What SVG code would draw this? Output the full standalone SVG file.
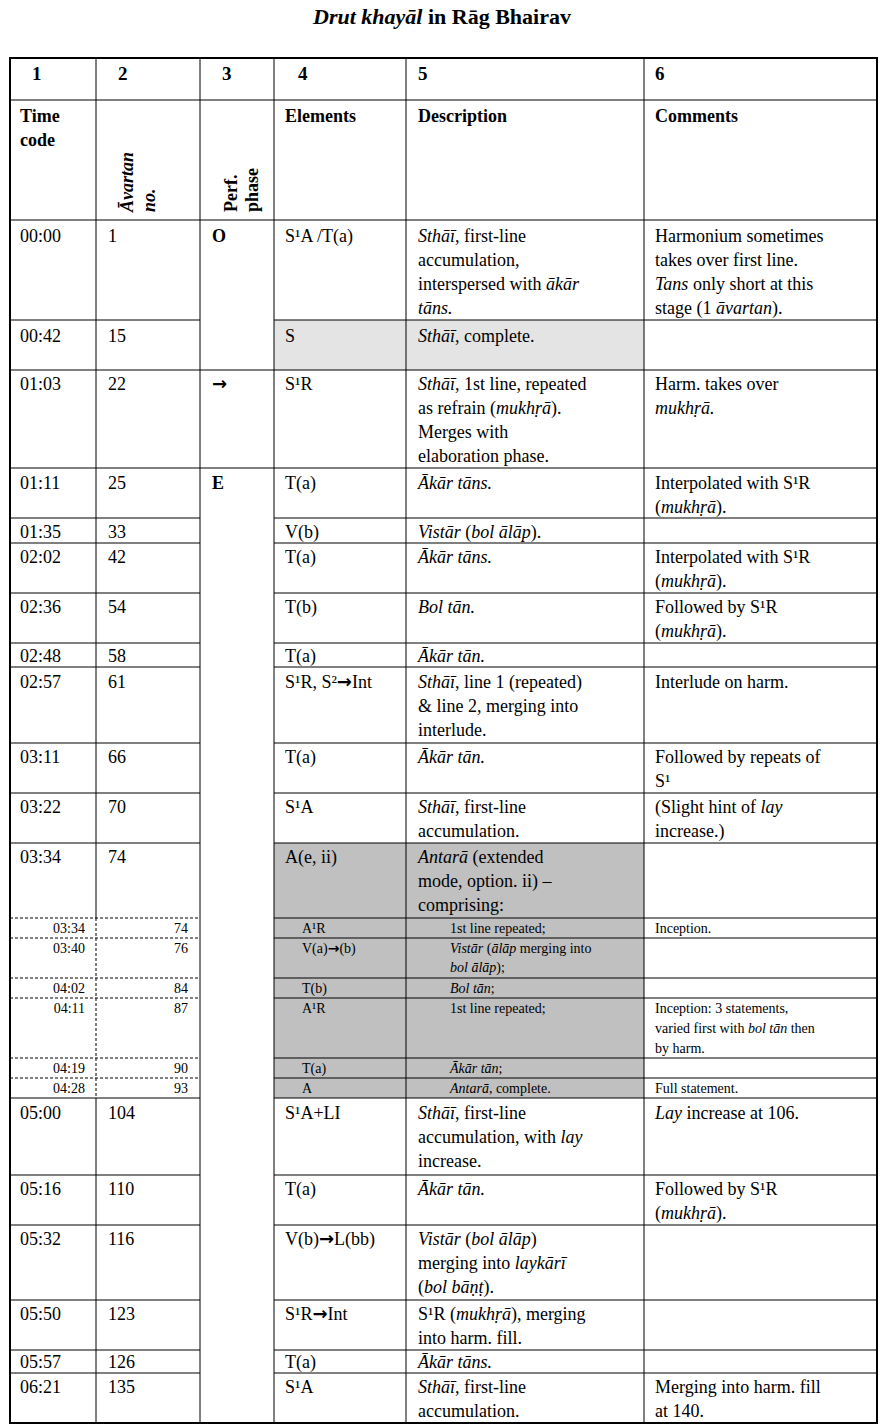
<svg xmlns="http://www.w3.org/2000/svg" width="884" height="1426" viewBox="0 0 884 1426">
<style>
text{font-family:"Liberation Serif","DejaVu Serif",serif;font-size:18px;fill:#000}
.b{font-weight:bold}
.i{font-style:italic}
.s{font-size:14px}
.t{font-size:22px;font-weight:bold}
.h{font-size:19px;font-weight:bold}
.a{font-family:"DejaVu Sans",sans-serif;font-weight:bold}
.ln{stroke:#000;stroke-width:1;fill:none}
.d{stroke:#000;stroke-width:1;stroke-dasharray:3,2;fill:none}
</style>
<text class="t" x="442" y="24" text-anchor="middle"><tspan class="i">Drut khayāl</tspan> in Rāg Bhairav</text>
<g id="fills">
<rect x="274" y="320" width="370" height="50" fill="#e4e4e4"/>
<rect x="274" y="843" width="370" height="255" fill="#c0c0c0"/>
</g>
<g id="grid">
<rect x="10" y="58" width="867" height="1365" fill="none" stroke="#000" stroke-width="2"/>
<path class="ln" d="M96 58V918M96 1098V1423M200 58V1423M274 58V1423M406 58V1423M644 58V1423"/>
<path class="d" d="M96 918V1098"/>
<path class="ln" d="M10 100H877M10 220H877"/>
<path class="ln" d="M10 320H200M274 320H877M10 370H877M10 468H877"/>
<path class="ln" d="M10 518H200M274 518H877M10 543H200M274 543H877M10 593H200M274 593H877M10 643H200M274 643H877M10 667H200M274 667H877M10 743H200M274 743H877M10 793H200M274 793H877M10 843H200M274 843H877"/>
<path class="d" d="M10 918H200M10 938H200M10 978H200M10 998H200M10 1058H200M10 1078H200"/>
<path class="ln" d="M274 918H877M274 938H877M274 978H877M274 998H877M274 1058H877M274 1078H877"/>
<path class="ln" d="M10 1098H200M274 1098H877M10 1175H200M274 1175H877M10 1225H200M274 1225H877M10 1300H200M274 1300H877M10 1350H200M274 1350H877M10 1373H200M274 1373H877"/>
</g>
<g id="header">
<text class="h" x="32" y="80">1</text><text class="h" x="118" y="80">2</text><text class="h" x="222" y="80">3</text><text class="h" x="298" y="80">4</text><text class="h" x="418" y="80">5</text><text class="h" x="655" y="80">6</text>
<text class="b" x="20" y="122">Time</text><text class="b" x="20" y="146">code</text>
<text class="b i" font-size="19" transform="translate(133,212) rotate(-90)">Āvartan</text>
<text class="b i" font-size="19" transform="translate(155,212) rotate(-90)">no.</text>
<text class="b" font-size="19" transform="translate(237,212) rotate(-90)">Perf.</text>
<text class="b" font-size="19" transform="translate(258,212) rotate(-90)">phase</text>
<text class="b" x="285" y="122">Elements</text><text class="b" x="418" y="122">Description</text><text class="b" x="655" y="122">Comments</text>
</g>
<g id="rows">
<text x="20" y="242">00:00</text><text x="108" y="242">1</text><text class="b" x="212" y="242">O</text><text x="285" y="242">S¹A /T(a)</text>
<text x="418" y="242"><tspan class="i">Sthāī</tspan>, first-line</text><text x="418" y="266">accumulation,</text><text x="418" y="290">interspersed with <tspan class="i">ākār</tspan></text><text x="418" y="314" class="i">tāns.</text>
<text x="655" y="242">Harmonium sometimes</text><text x="655" y="266">takes over first line.</text><text x="655" y="290"><tspan class="i">Tans</tspan> only short at this</text><text x="655" y="314">stage (1 <tspan class="i">āvartan</tspan>).</text>

<text x="20" y="342">00:42</text><text x="108" y="342">15</text><text x="285" y="342">S</text><text x="418" y="342"><tspan class="i">Sthāī</tspan>, complete.</text>

<text x="20" y="390">01:03</text><text x="108" y="390">22</text><text class="a" x="212" y="390">→</text><text x="285" y="390">S¹R</text>
<text x="418" y="390"><tspan class="i">Sthāī</tspan>, 1st line, repeated</text><text x="418" y="414">as refrain (<tspan class="i">mukhṛā</tspan>).</text><text x="418" y="438">Merges with</text><text x="418" y="462">elaboration phase.</text>
<text x="655" y="390">Harm. takes over</text><text x="655" y="414" class="i">mukhṛā.</text>

<text x="20" y="489">01:11</text><text x="108" y="489">25</text><text class="b" x="212" y="489">E</text><text x="285" y="489">T(a)</text><text x="418" y="489" class="i">Ākār tāns.</text><text x="655" y="489">Interpolated with S¹R</text><text x="655" y="513">(<tspan class="i">mukhṛā</tspan>).</text>
<text x="20" y="538">01:35</text><text x="108" y="538">33</text><text x="285" y="538">V(b)</text><text x="418" y="538"><tspan class="i">Vistār</tspan> (<tspan class="i">bol ālāp</tspan>).</text>
<text x="20" y="563">02:02</text><text x="108" y="563">42</text><text x="285" y="563">T(a)</text><text x="418" y="563" class="i">Ākār tāns.</text><text x="655" y="563">Interpolated with S¹R</text><text x="655" y="587">(<tspan class="i">mukhṛā</tspan>).</text>
<text x="20" y="613">02:36</text><text x="108" y="613">54</text><text x="285" y="613">T(b)</text><text x="418" y="613" class="i">Bol tān.</text><text x="655" y="613">Followed by S¹R</text><text x="655" y="637">(<tspan class="i">mukhṛā</tspan>).</text>
<text x="20" y="662">02:48</text><text x="108" y="662">58</text><text x="285" y="662">T(a)</text><text x="418" y="662" class="i">Ākār tān.</text>
<text x="20" y="688">02:57</text><text x="108" y="688">61</text><text x="285" y="688">S¹R, S²<tspan class="a">→</tspan>Int</text><text x="418" y="688"><tspan class="i">Sthāī</tspan>,  line 1 (repeated)</text><text x="418" y="712">&amp; line 2, merging into</text><text x="418" y="736">interlude.</text><text x="655" y="688">Interlude on harm.</text>
<text x="20" y="763">03:11</text><text x="108" y="763">66</text><text x="285" y="763">T(a)</text><text x="418" y="763" class="i">Ākār tān.</text><text x="655" y="763">Followed by repeats of</text><text x="655" y="787">S¹</text>
<text x="20" y="813">03:22</text><text x="108" y="813">70</text><text x="285" y="813">S¹A</text><text x="418" y="813"><tspan class="i">Sthāī</tspan>, first-line</text><text x="418" y="837">accumulation.</text><text x="655" y="813">(Slight hint of <tspan class="i">lay</tspan></text><text x="655" y="837">increase.)</text>
<text x="20" y="863">03:34</text><text x="108" y="863">74</text><text x="285" y="863">A(e, ii)</text><text x="418" y="863"><tspan class="i">Antarā</tspan> (extended</text><text x="418" y="887">mode, option. ii) –</text><text x="418" y="911">comprising:</text>
</g>
<g id="subrows">
<text class="s" x="85" y="933" text-anchor="end">03:34</text><text class="s" x="188" y="933" text-anchor="end">74</text><text class="s" x="302" y="933">A¹R</text><text class="s" x="450" y="933">1st line repeated;</text><text class="s" x="655" y="933">Inception.</text>
<text class="s" x="85" y="953" text-anchor="end">03:40</text><text class="s" x="188" y="953" text-anchor="end">76</text><text class="s" x="302" y="953">V(a)<tspan class="a">→</tspan>(b)</text><text class="s" x="450" y="953"><tspan class="i">Vistār</tspan> (<tspan class="i">ālāp</tspan> merging into</text><text class="s i" x="450" y="972">bol ālāp<tspan font-style="normal">);</tspan></text>
<text class="s" x="85" y="993" text-anchor="end">04:02</text><text class="s" x="188" y="993" text-anchor="end">84</text><text class="s" x="302" y="993">T(b)</text><text class="s i" x="450" y="993">Bol tān<tspan font-style="normal">;</tspan></text>
<text class="s" x="85" y="1013" text-anchor="end">04:11</text><text class="s" x="188" y="1013" text-anchor="end">87</text><text class="s" x="302" y="1013">A¹R</text><text class="s" x="450" y="1013">1st line repeated;</text><text class="s" x="655" y="1013">Inception: 3 statements,</text><text class="s" x="655" y="1033">varied first with <tspan class="i">bol tān</tspan> then</text><text class="s" x="655" y="1053">by harm.</text>
<text class="s" x="85" y="1073" text-anchor="end">04:19</text><text class="s" x="188" y="1073" text-anchor="end">90</text><text class="s" x="302" y="1073">T(a)</text><text class="s i" x="450" y="1073">Ākār tān<tspan font-style="normal">;</tspan></text>
<text class="s" x="85" y="1093" text-anchor="end">04:28</text><text class="s" x="188" y="1093" text-anchor="end">93</text><text class="s" x="302" y="1093">A</text><text class="s" x="450" y="1093"><tspan class="i">Antarā</tspan>, complete.</text><text class="s" x="655" y="1093">Full statement.</text>
</g>
<g id="rows2">
<text x="20" y="1119">05:00</text><text x="108" y="1119">104</text><text x="285" y="1119">S¹A+LI</text><text x="418" y="1119"><tspan class="i">Sthāī</tspan>, first-line</text><text x="418" y="1143">accumulation, with <tspan class="i">lay</tspan></text><text x="418" y="1167">increase.</text><text x="655" y="1119"><tspan class="i">Lay</tspan> increase at 106.</text>
<text x="20" y="1195">05:16</text><text x="108" y="1195">110</text><text x="285" y="1195">T(a)</text><text x="418" y="1195" class="i">Ākār tān.</text><text x="655" y="1195">Followed by S¹R</text><text x="655" y="1219">(<tspan class="i">mukhṛā</tspan>).</text>
<text x="20" y="1245">05:32</text><text x="108" y="1245">116</text><text x="285" y="1245">V(b)<tspan class="a">→</tspan>L(bb)</text><text x="418" y="1245"><tspan class="i">Vistār</tspan> (<tspan class="i">bol ālāp</tspan>)</text><text x="418" y="1269">merging into <tspan class="i">laykārī</tspan></text><text x="418" y="1293">(<tspan class="i">bol bāṇṭ</tspan>).</text>
<text x="20" y="1320">05:50</text><text x="108" y="1320">123</text><text x="285" y="1320">S¹R<tspan class="a">→</tspan>Int</text><text x="418" y="1320">S¹R (<tspan class="i">mukhṛā</tspan>), merging</text><text x="418" y="1344">into harm. fill.</text>
<text x="20" y="1368">05:57</text><text x="108" y="1368">126</text><text x="285" y="1368">T(a)</text><text x="418" y="1368" class="i">Ākār tāns.</text>
<text x="20" y="1393">06:21</text><text x="108" y="1393">135</text><text x="285" y="1393">S¹A</text><text x="418" y="1393"><tspan class="i">Sthāī</tspan>, first-line</text><text x="418" y="1417">accumulation.</text><text x="655" y="1393">Merging into harm. fill</text><text x="655" y="1417">at 140.</text>
</g>
</svg>
